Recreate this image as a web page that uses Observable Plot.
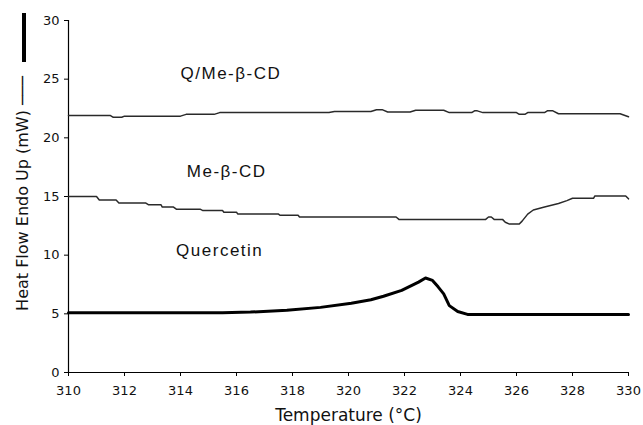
<!DOCTYPE html>
<html>
<head>
<meta charset="utf-8">
<script src="https://cdn.jsdelivr.net/npm/d3@7"></script>
<script src="https://cdn.jsdelivr.net/npm/@observablehq/plot@0.6"></script>
<style>
  html, body { margin: 0; padding: 0; background: #fff; }
  #chart { width: 643px; height: 425px; }
</style>
</head>
<body>
<div id="chart"></div>
<script>
// ---- data ----
const xTicks = [310, 312, 314, 316, 318, 320, 322, 324, 326, 328, 330];
const yTicks = [0, 5, 10, 15, 20, 25, 30];

// Q/Me-beta-CD curve
const qmeT = [310, 311.5, 311.6, 311.9, 312.0, 314.0, 314.2, 315.2, 315.4, 319.3, 319.5, 320.8, 321.0, 321.2, 321.4, 322.2, 322.4, 323.4, 323.6, 324.4, 324.5, 324.6, 324.8, 326.0, 326.1, 326.3, 326.4, 327.0, 327.1, 327.3, 327.5, 329.7, 330];
const qmeV = [21.9, 21.9, 21.75, 21.75, 21.85, 21.85, 22.0, 22.0, 22.15, 22.15, 22.25, 22.25, 22.4, 22.4, 22.2, 22.2, 22.35, 22.35, 22.15, 22.15, 22.3, 22.3, 22.15, 22.15, 22.0, 22.0, 22.15, 22.15, 22.3, 22.3, 22.05, 22.05, 21.8];

// Me-beta-CD curve
const meT = [310, 311.0, 311.1, 311.7, 311.8, 312.75, 312.85, 313.3, 313.35, 313.75, 313.85, 314.7, 314.8, 315.5, 315.55, 316.0, 316.05, 317.5, 317.55, 318.2, 318.25, 321.7, 321.8, 324.9, 325.0, 325.1, 325.2, 325.5, 325.6, 325.75, 326.1, 326.2, 326.4, 326.6, 327.0, 327.5, 327.8, 328.0, 328.75, 328.8, 329.9, 330];
const meV = [15.0, 15.0, 14.7, 14.7, 14.45, 14.45, 14.3, 14.3, 14.1, 14.1, 13.92, 13.92, 13.8, 13.8, 13.65, 13.65, 13.5, 13.5, 13.4, 13.4, 13.25, 13.25, 13.05, 13.05, 13.25, 13.25, 13.05, 13.05, 12.8, 12.65, 12.65, 12.9, 13.5, 13.85, 14.1, 14.4, 14.65, 14.85, 14.85, 15.05, 15.05, 14.8];

// Quercetin curve
const qT = [310, 315.5, 316.5, 317.8, 319.0, 320.1, 320.8, 321.25, 321.9, 322.5, 322.75, 323.0, 323.2, 323.4, 323.6, 323.9, 324.25, 330];
const qV = [5.1, 5.1, 5.15, 5.3, 5.55, 5.9, 6.2, 6.5, 7.0, 7.7, 8.05, 7.85, 7.3, 6.7, 5.7, 5.2, 4.95, 4.95];

// curve labels
const labelNames = ["Q/Me-β-CD", "Me-β-CD", "Quercetin"];
const labelX = [315.8, 315.65, 315.4];
const labelY = [25.5, 17.1, 10.4];

const xTitle = "Temperature (°C)";
const yTitle = "Heat Flow Endo Up (mW) ───";

// ---- build tables ----
const toRows = (t, v) => t.map((x, i) => ({x, y: v[i]}));
const qme = toRows(qmeT, qmeV);
const me = toRows(meT, meV);
const quer = toRows(qT, qV);
const labels = labelNames.map((name, i) => ({name, x: labelX[i], y: labelY[i]}));

const chart = Plot.plot({
  width: 643,
  height: 425,
  marginLeft: 68,
  marginRight: 15,
  marginTop: 20,
  marginBottom: 53,
  style: {fontFamily: "DejaVu Sans", background: "#fff", color: "#111"},
  x: {domain: [310, 330]},
  y: {domain: [0, 30]},
  marks: [
    Plot.axisX({ticks: xTicks, tickFormat: d => String(d), tickSize: 4, tickPadding: 9, fontSize: 13, label: null, stroke: "#000"}),
    Plot.axisY({ticks: yTicks, tickFormat: d => String(d), tickSize: 4, tickPadding: 5, fontSize: 13, label: null, stroke: "#000"}),
    Plot.ruleY([0], {stroke: "#000", strokeWidth: 1.2}),
    Plot.ruleX([310], {stroke: "#000", strokeWidth: 1.2}),
    Plot.line(qme, {x: "x", y: "y", stroke: "#2a2a2a", strokeWidth: 1.5}),
    Plot.line(me, {x: "x", y: "y", stroke: "#2a2a2a", strokeWidth: 1.5}),
    Plot.line(quer, {x: "x", y: "y", stroke: "#000", strokeWidth: 3}),
    Plot.text(labels, {x: "x", y: "y", text: "name", fontSize: 17, fontFamily: "Liberation Sans", fill: "#111", textAnchor: "middle", lineAnchor: "middle"}),
    Plot.text([xTitle], {text: d => d, frameAnchor: "bottom", textAnchor: "middle", lineAnchor: "bottom", dy: 48, fontSize: 17, fill: "#111"}),
    Plot.text([yTitle], {text: d => d, frameAnchor: "left", textAnchor: "middle", lineAnchor: "bottom", rotate: -90, dx: -41, dy: -3, fontSize: 16, fill: "#111"})
  ]
});

// letter spacing on curve labels (the reference type is slightly wide)
d3.select(chart).selectAll("text").filter(function() { return labelNames.includes(this.textContent); })
  .attr("letter-spacing", "1.5px");

// thick legend sample bar above the y title
d3.select(chart).append("line")
  .attr("x1", 24).attr("x2", 24).attr("y1", 13).attr("y2", 62)
  .attr("stroke", "#000").attr("stroke-width", 4);

document.getElementById("chart").appendChild(chart);
</script>
</body>
</html>
